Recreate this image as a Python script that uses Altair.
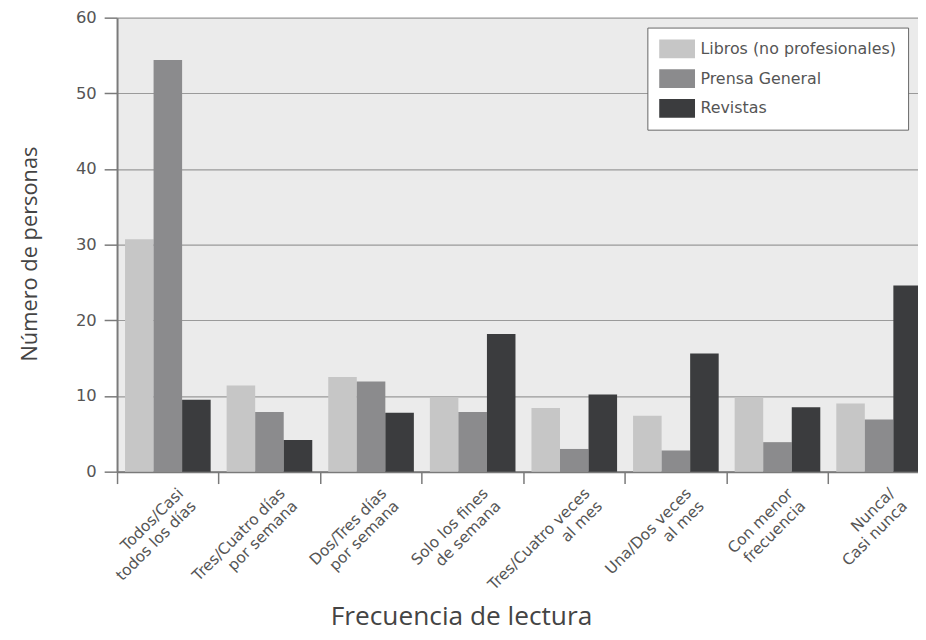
import altair as alt
import pandas as pd

categorias = [
    "Todos/Casi\ntodos los días",
    "Tres/Cuatro días\npor semana",
    "Dos/Tres días\npor semana",
    "Solo los fines\nde semana",
    "Tres/Cuatro veces\nal mes",
    "Una/Dos veces\nal mes",
    "Con menor\nfrecuencia",
    "Nunca/\nCasi nunca",
]
series = ["Libros (no profesionales)", "Prensa General", "Revistas"]
libros = [30.7, 11.4, 12.5, 9.8, 8.4, 7.4, 9.8, 9.0]
prensa = [54.4, 7.9, 11.9, 7.9, 3.0, 2.8, 3.9, 6.9]
revistas = [9.5, 4.2, 7.8, 18.2, 10.2, 15.6, 8.5, 24.6]
colores = ["#c6c6c6", "#8b8b8d", "#3b3c3e"]

rows = []
for serie, vals in zip(series, [libros, prensa, revistas]):
    for c, v in zip(categorias, vals):
        rows.append({"frecuencia": c, "serie": serie, "personas": v})
df = pd.DataFrame(rows)

LABEL_FONT = "DejaVu Sans"
TITLE_FONT = "Open Sans"

chart = (
    alt.Chart(df)
    .mark_bar()
    .encode(
        x=alt.X(
            "frecuencia:N",
            sort=categorias,
            scale=alt.Scale(paddingInner=0, paddingOuter=0, range=[0, 820]),
            axis=alt.Axis(
                title="Frecuencia de lectura",
                bandPosition=0,
                labelExpr="split(datum.label, '\\n')",
                labelAngle=-45,
                labelAlign="right",
                labelBaseline="top",
                labelOffset=8,
                labelPadding=2,
                labelLineHeight=18,
                labelFont=LABEL_FONT,
                labelFontSize=15.5,
                labelColor="#555555",
                tickSize=12,
                tickColor="#7a7a7a",
                tickWidth=1.5,
                domainColor="#7a7a7a",
                domainWidth=2,
                titleFont=TITLE_FONT,
                titleFontSize=26.5,
                titleFontWeight="normal",
                titleColor="#444444",
                titleX=347,
                titleY=154,
                titleAlign="center",
                titleBaseline="alphabetic",
                labelLimit=400,
            ),
        ),
        xOffset=alt.XOffset(
            "serie:N", sort=series, scale=alt.Scale(paddingInner=0, paddingOuter=0.28)
        ),
        y=alt.Y(
            "personas:Q",
            scale=alt.Scale(domain=[0, 60], nice=False),
            axis=alt.Axis(
                title="Número de personas",
                values=[0, 10, 20, 30, 40, 50, 60],
                grid=True,
                gridColor="#9a9a9a",
                gridWidth=1.2,
                tickSize=13,
                tickColor="#7a7a7a",
                tickWidth=1.5,
                domainColor="#7a7a7a",
                domainWidth=2,
                labelPadding=8,
                labelFont=LABEL_FONT,
                labelFontSize=16.5,
                labelColor="#555555",
                titleFont=TITLE_FONT,
                titleFontSize=22,
                titleFontWeight="normal",
                titleColor="#444444",
                titleX=-88,
                titleY=238,
                titleAlign="center",
                titleBaseline="middle",
            ),
        ),
        color=alt.Color(
            "serie:N",
            sort=series,
            scale=alt.Scale(domain=series, range=colores),
            legend=alt.Legend(
                title=None,
                orient="none",
                legendX=535,
                legendY=10,
                fillColor="white",
                strokeColor="#666666",
                padding=12,
                rowPadding=11,
                symbolType="M-1.9,-1L1.9,-1L1.9,1L-1.9,1Z",
                symbolSize=361,
                symbolOffset=8.5,
                symbolStrokeWidth=0,
                symbolOpacity=1,
                labelFont=LABEL_FONT,
                labelFontSize=16,
                labelColor="#555555",
                labelOffset=14,
                labelLimit=400,
            ),
        ),
    )
    .properties(
        width=808,
        height=458,
        autosize=alt.AutoSizeParams(type="none"),
        padding={"left": 110, "top": 7, "right": 0, "bottom": 159},
        background="white",
    )
    .configure_view(fill="#ebebeb", stroke=None)
)

chart.save("out.html", embed_options={"renderer": "svg", "actions": False})
